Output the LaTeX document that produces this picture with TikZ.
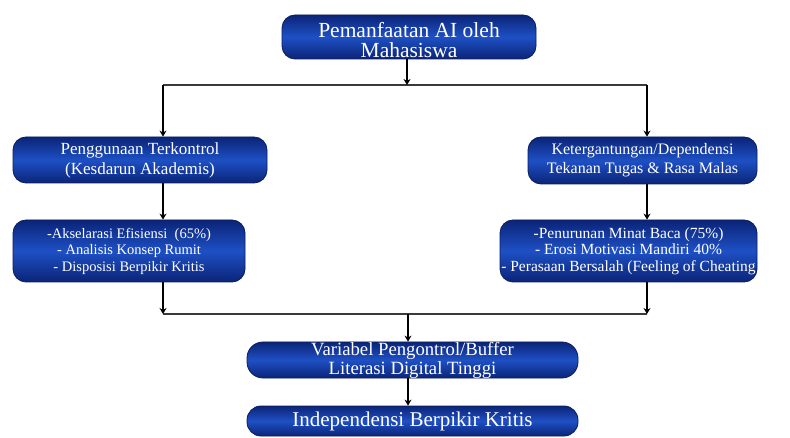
\documentclass[tikz,border=0pt]{standalone}
\usepackage{fontspec}
\setmainfont{Liberation Serif}
\usetikzlibrary{arrows.meta}
\definecolor{boxdark}{HTML}{0B2478}
\definecolor{boxmid}{HTML}{1E50C4}
\definecolor{boxedge}{HTML}{0A1C5E}
\definecolor{linegray}{HTML}{3A3A3A}
\tikzset{
  bluebox/.style={rectangle, rounded corners=13pt, draw=boxedge, line width=0.8pt,
    top color=boxdark, bottom color=boxdark, middle color=boxmid,
    inner sep=0pt},
  txt/.style={text=white, align=center, inner sep=0pt},
  conn/.style={line width=1.6pt, black, -{Stealth[length=6pt,width=7pt]}},
  bar/.style={line width=1.8pt, linegray},
}
\begin{document}
\begin{tikzpicture}[x=1pt,y=-1pt]
\useasboundingbox (0,0) rectangle (790,438);
% boxes
\node[bluebox, minimum width=254pt, minimum height=44pt] (top) at (409,37) {};
\node[txt, font=\fontsize{21.5}{20}\selectfont, anchor=center] (toptxt) at ([yshift=-3pt]top.center) {Pemanfaatan AI oleh\\Mahasiswa};

\node[bluebox, minimum width=254pt, minimum height=46pt] (L1) at (140,160) {};
\node[txt, font=\fontsize{17}{20}\selectfont] (L1txt) at (L1.center) {Penggunaan Terkontrol\\(Kesdarun Akademis)};

\node[bluebox, minimum width=232pt, minimum height=62pt] (L2) at (129,251) {};
\node[txt, font=\fontsize{14.5}{16.5}\selectfont] (L2txt) at (L2.center) {-Akselarasi Efisiensi\ \ (65\%)\\- Analisis Konsep Rumit\\- Disposisi Berpikir Kritis};

\node[bluebox, minimum width=229pt, minimum height=47pt] (R1) at (642.5,160.5) {};
\node[txt, font=\fontsize{16}{19}\selectfont] (R1txt) at (R1.center) {Ketergantungan/Dependensi\\Tekanan Tugas \& Rasa Malas};

\node[bluebox, minimum width=257pt, minimum height=62pt] (R2) at (628.5,251) {};
\node[txt, font=\fontsize{15.5}{16.5}\selectfont] (R2txt) at (R2.center) {-Penurunan Minat Baca (75\%)\\- Erosi Motivasi Mandiri 40\%\\- Perasaan Bersalah (Feeling of Cheating};

\node[bluebox, minimum width=331pt, minimum height=36pt, rounded corners=16pt] (V) at (412.5,360) {};
\node[txt, font=\fontsize{18.7}{19}\selectfont] (Vtxt) at (V.center) {Variabel Pengontrol/Buffer\\Literasi Digital Tinggi};

\node[bluebox, minimum width=331pt, minimum height=30pt, rounded corners=14pt] (I) at (412.5,421) {};
\node[txt, font=\fontsize{21}{22}\selectfont] (Itxt) at (I.center) {Independensi Berpikir Kritis};

% junction coordinates
\coordinate (jt) at (407,85);
\coordinate (jl) at (163,85);
\coordinate (jr) at (647,85);
\coordinate (bl) at (163,314);
\coordinate (br) at (647,314);
\coordinate (bm) at (408,314);

% connectors
\draw[bar] (jl) -- (jr);
\draw[conn] (top.south -| jt) -- (jt);
\draw[conn] (jl) -- (jl |- L1.north);
\draw[conn] (jr) -- (jr |- R1.north);
\draw[conn] (jl |- L1.south) -- (jl |- L2.north);
\draw[conn] (jr |- R1.south) -- (jr |- R2.north);
\draw[bar] (bl) -- (br);
\draw[conn] (bl |- L2.south) -- (bl);
\draw[conn] (br |- R2.south) -- (br);
\draw[conn] (bm) -- (bm |- V.north);
\draw[conn] (bm |- V.south) -- (bm |- I.north);
\end{tikzpicture}
\end{document}
